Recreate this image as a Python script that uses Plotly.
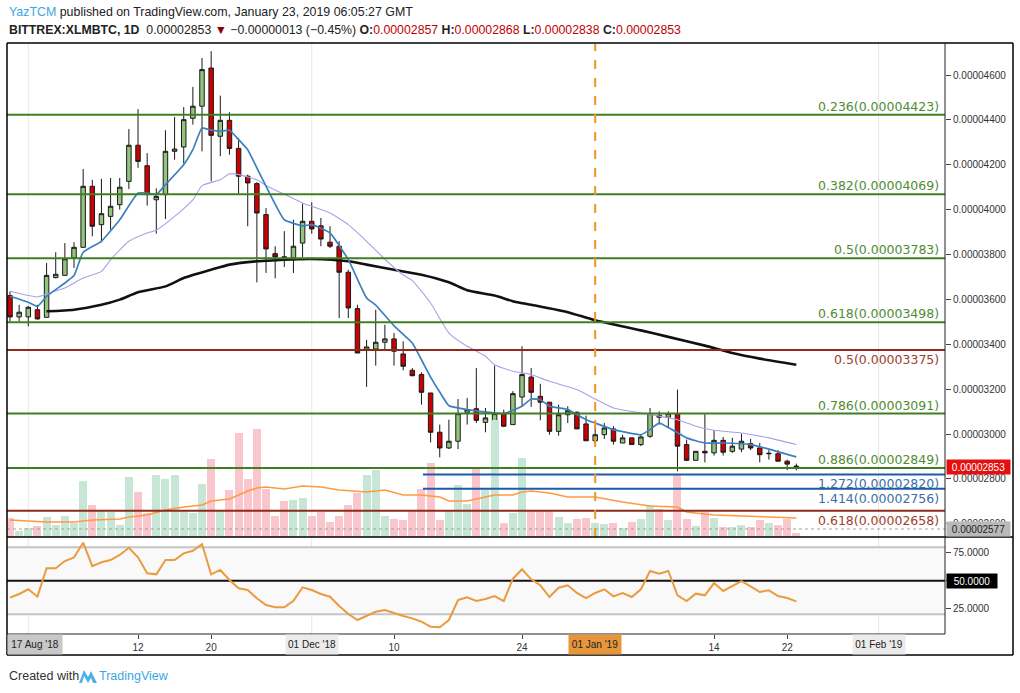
import plotly.graph_objects as go
import pandas as pd

W, H = 1020, 693
def X(px): return px / W
def Y(py): return 1 - py / H

SAT = 1e-8
start_date = "2018-10-29"
n_days = 87
dates = pd.date_range(start_date, periods=n_days, freq="D")

# ---- daily candles (satoshi, 1e-8 BTC) ----
opens = [3617,3522,3522,3554,3520,3697,3707,3785,3832,4104, 3933,3970,4022,4126,4287,4196,4044,4067,4260,4279,
         4407,4461,4631,4327,4398,4273,4149,4116,3978,3804, 3790,3785,3851,3948,3928,3855,3837,3721,3559,3373,
         3379,3409,3424,3357,3284,3265,3183,3008,2938,2968, 3097,3113,3052,3057,3091,3042,3165,3254,3168,3142,
         3012,3086,3097,3045,2970,2997,3023,2960,2983,2953, 2990,3084,3075,3091,2953,2883,2923,2916,2972,2923,
         2933,2957,2938,2912,2912,2879,2857]
highs = [3636,3576,3571,3576,3762,3810,3851,3855,4181,4133, 4137,4141,4141,4359,4448,4252,4095,4354,4413,4457,
         4547,4676,4706,4508,4434,4319,4156,4122,4007,3837, 3904,3955,4027,4033,3963,3926,3859,3732,3576,3420,
         3554,3487,3450,3413,3294,3275,3183,3042,3064,3156, 3161,3294,3116,3305,3109,3191,3391,3294,3224,3143,
         3131,3124,3101,3082,3037,3049,3035,2997,2983,2997, 3116,3101,3101,3198,2975,2923,3091,3017,2987,2983,
         3002,2978,2960,2928,2928,2886,2868]
lows = [3502,3502,3480,3510,3520,3694,3707,3740,3832,3881, 3855,3911,4000,4092,4186,4018,3893,3958,4223,4205,
        4379,4260,4126,4238,4245,4071,3926,3676,3718,3694, 3744,3718,3789,3893,3837,3829,3517,3517,3361,3210,
        3305,3373,3305,3284,3257,3131,2963,2896,2933,2933, 3042,3049,3008,3012,3031,3042,3121,3121,3061,2997,
        2993,3049,3023,2970,2948,2978,2953,2960,2953,2946, 2983,3042,3031,2834,2879,2883,2874,2904,2904,2916,
        2919,2928,2874,2886,2879,2839,2838]
closes = [3522,3543,3565,3513,3707,3712,3781,3832,4104,3926, 3982,4015,4100,4287,4215,4067,4059,4260,4270,4401,
          4461,4624,4331,4398,4273,4149,4119,3985,3825,3789, 3786,3837,3948,3914,3869,3837,3721,3562,3361,3388,
          3409,3424,3369,3302,3260,3186,3008,2938,2968,3091, 3109,3061,3072,3091,3035,3180,3265,3186,3142,3012,
          3086,3104,3023,2970,2997,3027,2968,2983,2953,2987, 3091,3075,3091,2946,2883,2923,2916,2972,2919,2946,
          2968,2938,2908,2914,2879,2866,2853]
# volume (relative units)
volume = [19,6,9,11,20,12,21,14,56,32, 26,25,12,60,45,24,62,58,62,26,
          24,53,78,27,47,104,58,108,48,21, 36,37,39,21,25,15,21,32,44,62,
          67,21,18,17,26,48,74,17,26,52, 33,69,47,117,14,24,79,27,26,27,
          20,14,18,19,14,13,14,9,15,18, 32,28,17,63,18,11,25,19,10,10,
          12,10,17,14,12,18,4]
rsi = [34.9,38.2,42.4,35.8,61.2,61.2,67.7,71.0,84.1,63.2, 66.6,68.6,73.1,79.6,71.0,56.7,55.8,68.6,68.6,74.6,
       76.9,82.9,55.8,59.7,50.7,43.3,41.8,34.3,28.3,26.3, 26.3,32.2,44.2,41.8,38.2,35.8,27.4,20.3,14.9,18.5,
       22.3,23.9,20.9,18.5,16.4,13.4,8.9,8.4,14.9,32.8, 35.2,31.9,33.7,36.4,31.9,51.9,60.3,51.3,46.0,35.5,
       43.8,46.0,39.1,34.6,39.1,42.4,36.1,39.1,35.5,42.4, 58.8,56.4,58.8,37.0,31.9,38.5,37.0,48.0,40.9,45.3,
       49.8,45.1,40.0,41.5,36.4,34.6,31.6]

# ---- moving averages (day index, satoshi) ----
ema_idx = [0,2,3,4,6,7,8,10,12,14,15,16,17,19,20,21,22,23,24,25,26,27,28,30,32,33,35,37,39,40,42,44,45,46,47,48,50,53,54,56,57,58,59,61,63,64,66,69,70,71,74,76,78,81,83,86]
ema_val = [3614,3587,3569,3614,3673,3706,3810,3859,3955,4074,4074,4067,4111,4200,4267,4364,4354,4349,4354,4312,4267,4186,4105,3955,3928,3933,3896,3777,3606,3575,3482,3406,3331,3254,3187,3126,3109,3094,3091,3124,3156,3153,3124,3109,3064,3049,3020,2997,3020,3049,2983,2960,2960,2953,2933,2898]
ma_idx = [0,3,4,6,8,10,11,13,15,16,18,20,21,23,24,25,27,28,32,33,35,37,39,41,43,44,46,48,50,52,53,55,57,59,62,64,66,69,73,75,77,80,83,86]
ma_val = [3636,3611,3625,3651,3695,3725,3777,3859,3896,3908,3970,4044,4107,4133,4160,4156,4133,4108,4030,4015,3985,3933,3859,3779,3709,3684,3584,3450,3391,3347,3309,3280,3265,3235,3198,3156,3116,3094,3064,3035,3017,3005,2983,2953]
long_idx = [4,7,10,12,14,17,19,22,24,27,28,30,33,37,39,42,45,48,50,53,55,57,61,64,69,72,76,79,82,86]
long_val = [3547,3554,3576,3599,3632,3658,3695,3732,3755,3770,3772,3777,3780,3770,3755,3732,3710,3676,3641,3617,3592,3576,3543,3507,3462,3433,3394,3361,3336,3309]
vma_idx = [0,4,7,9,12,13,15,17,19,21,22,24,26,27,28,30,32,34,36,38,39,41,43,45,47,48,50,51,53,55,56,57,59,61,64,67,70,73,74,77,82,86]
vma_val = [17,15,15,17,18,20,22,27,30,32,36,38,46,49,50,48,51,50,47,46,45,47,42,42,40,36,36,38,42,42,45,46,44,40,40,35,31,30,25,22,20,19]

# ---- Fibonacci drawings ----
fib_green_ratio = ["0.236", "0.382", "0.5", "0.618", "0.786", "0.886"]
fib_green_value = [4423, 4069, 3783, 3498, 3091, 2849]
fib_red_ratio = ["0.5", "0.618"]
fib_red_value = [3375, 2658]
fib_blue_ratio = ["1.272", "1.414"]
fib_blue_value = [2820, 2756]
fib_blue_start = "2018-12-13 04:00"
marker_date = "2019-01-01"
level_dotted = 2577
last_price = 2853

price_ticks = [2600, 2800, 3000, 3200, 3400, 3600, 3800, 4000, 4200, 4400, 4600]
rsi_ticks = [25, 50, 75]
date_tick_vals = ["2018-11-12", "2018-11-20", "2018-12-10", "2018-12-24", "2019-01-14", "2019-01-22"]
date_tick_text = ["12", "20", "10", "24", "14", "22"]
month_dates = ["2018-12-01", "2019-01-01", "2019-02-01"]
month_text = ["01 Dec '18", "01 Jan '19", "01 Feb '19"]
grid_dates = ["2018-10-31", "2018-12-01", "2019-02-01"]

GREEN_C = "#93c47d"
RED_C = "#cc0000"
VOL_UP = "#c7e6d5"
VOL_DN = "#f8c6cc"
FIB_GREEN = "#3f7f22"
FIB_GREEN_T = "#4f8c33"
FIB_RED = "#8c2a1c"
FIB_RED_T = "#9c3d2c"
FIB_BLUE = "#1f5aa6"
FIB_BLUE_T = "#3a6ea8"
AXIS_FONT = "Liberation Sans"

t0 = pd.Timestamp(start_date)
x_range = [t0 - pd.Timedelta(hours=7.9), t0 + pd.Timedelta(days=102.26)]

fig = go.Figure()

vol_colors = [VOL_UP if c >= o else VOL_DN for o, c in zip(opens, closes)]
fig.add_trace(go.Bar(x=dates, y=volume, marker=dict(color=vol_colors, line=dict(width=0)),
                     width=0.87 * 86400000, xaxis="x", yaxis="y3", hoverinfo="skip", showlegend=False))
fig.add_trace(go.Scatter(x=dates[vma_idx], y=vma_val, mode="lines",
                         line=dict(color="#ff9a40", width=1.6), xaxis="x", yaxis="y3", showlegend=False))

fig.add_trace(go.Scatter(x=dates[long_idx], y=[v * SAT for v in long_val], mode="lines",
                         line=dict(color="#111111", width=2.6, shape="spline", smoothing=0.6), showlegend=False))
fig.add_trace(go.Scatter(x=dates[ma_idx], y=[v * SAT for v in ma_val], mode="lines",
                         line=dict(color="#a8a2e6", width=1.1, shape="spline", smoothing=0.5), showlegend=False))
fig.add_trace(go.Scatter(x=dates[ema_idx], y=[v * SAT for v in ema_val], mode="lines",
                         line=dict(color="#3a80c0", width=1.7, shape="spline", smoothing=0.4), showlegend=False))

fig.add_trace(go.Candlestick(
    x=dates,
    open=[v * SAT for v in opens], high=[v * SAT for v in highs],
    low=[v * SAT for v in lows], close=[v * SAT for v in closes],
    increasing=dict(fillcolor=GREEN_C, line=dict(color="#1a1a1a", width=1)),
    decreasing=dict(fillcolor=RED_C, line=dict(color="#1a1a1a", width=1)),
    whiskerwidth=0, showlegend=False, xaxis="x", yaxis="y"))

fig.add_trace(go.Scatter(x=dates, y=rsi, mode="lines", line=dict(color="#ec9a3f", width=2),
                         xaxis="x2", yaxis="y2", showlegend=False))

shapes = []
def hline_px(y, x0=7, x1=1013, color="#000", width=1.5):
    shapes.append(dict(type="line", xref="paper", yref="paper", x0=X(x0), x1=X(x1), y0=Y(y), y1=Y(y),
                       line=dict(color=color, width=width), layer="above"))
def vline_px(x, y0, y1, color="#000", width=1.5):
    shapes.append(dict(type="line", xref="paper", yref="paper", x0=X(x), x1=X(x), y0=Y(y0), y1=Y(y1),
                       line=dict(color=color, width=width), layer="above"))

# month grid lines (behind)
for d in grid_dates:
    shapes.append(dict(type="line", xref="x", yref="paper", x0=d, x1=d, y0=Y(634), y1=Y(43),
                       line=dict(color="#e6e6e6", width=1), layer="below"))
# RSI band and levels
shapes.append(dict(type="rect", xref="paper", yref="y2", x0=X(7), x1=X(945), y0=20, y1=80,
                   fillcolor="#f9f9f9", line=dict(width=0), layer="below"))
for lv, col in [(80, "#c4c4c4"), (20, "#c4c4c4"), (50, "#111111")]:
    shapes.append(dict(type="line", xref="paper", yref="y2", x0=X(7), x1=X(945), y0=lv, y1=lv,
                       line=dict(color=col, width=2), layer="below"))

# fib lines
for v in fib_green_value:
    shapes.append(dict(type="line", xref="paper", yref="y", x0=X(7), x1=X(945), y0=v * SAT, y1=v * SAT,
                       line=dict(color=FIB_GREEN, width=2), layer="above"))
for v in fib_red_value:
    shapes.append(dict(type="line", xref="paper", yref="y", x0=X(7), x1=X(945), y0=v * SAT, y1=v * SAT,
                       line=dict(color=FIB_RED, width=2), layer="above"))
for v in fib_blue_value:
    shapes.append(dict(type="line", xref="x", yref="y", x0=fib_blue_start, x1=x_range[1], y0=v * SAT, y1=v * SAT,
                       line=dict(color=FIB_BLUE, width=2), layer="above"))
# dotted level
shapes.append(dict(type="line", xref="paper", yref="y", x0=X(7), x1=X(945), y0=level_dotted * SAT, y1=level_dotted * SAT,
                   line=dict(color="#a0a0a0", width=1, dash="dot"), layer="above"))
# orange dashed vertical line
shapes.append(dict(type="line", xref="x", yref="paper", x0=marker_date, x1=marker_date, y0=Y(537), y1=Y(44),
                   line=dict(color="#f7931e", width=2, dash="dash"), layer="above"))

# frame
hline_px(43)
hline_px(537)
hline_px(655)
hline_px(634, 7, 945, "#222", 1)
vline_px(7, 43, 655)
vline_px(1013, 43, 655)
vline_px(945, 43, 634, "#222", 1)

# TradingView logo (simple)
def ppath(pts):
    return "M " + " L ".join(f"{X(a)},{Y(b)}" for a, b in pts) + " Z"
shapes.append(dict(type="path", xref="paper", yref="paper",
                   path=ppath([(79, 683), (84, 670), (88, 677), (91, 671), (97, 683), (93, 683), (91, 678), (88, 683), (84, 676), (82, 683)]),
                   fillcolor="#4fb0e6", line=dict(width=0)))

annotations = []
for r, v in zip(fib_green_ratio, fib_green_value):
    annotations.append(dict(xref="paper", yref="y", x=X(941), y=v * SAT, xanchor="right", yanchor="bottom",
                            yshift=-1, showarrow=False, text=f"{r}({v * SAT:.8f})",
                            font=dict(family="DejaVu Sans", size=12.5, color=FIB_GREEN_T)))
for r, v in zip(fib_red_ratio, fib_red_value):
    annotations.append(dict(xref="paper", yref="y", x=X(941), y=v * SAT, xanchor="right", yanchor="top",
                            yshift=0, showarrow=False, text=f"{r}({v * SAT:.8f})",
                            font=dict(family="DejaVu Sans", size=12.5, color=FIB_RED_T)))
for r, v in zip(fib_blue_ratio, fib_blue_value):
    annotations.append(dict(xref="paper", yref="y", x=X(941), y=v * SAT, xanchor="right", yanchor="top",
                            yshift=0, showarrow=False, text=f"{r}({v * SAT:.8f})",
                            font=dict(family="DejaVu Sans", size=12.5, color=FIB_BLUE_T)))

# axis value boxes
annotations.append(dict(xref="paper", yref="y", x=X(946), y=last_price * SAT, xanchor="left", yanchor="middle",
                        showarrow=False, text=f"{last_price * SAT:.8f}", bgcolor="#e31010", width=61, height=12,
                        borderpad=1, align="center", font=dict(family=AXIS_FONT, size=10, color="white")))
annotations.append(dict(xref="paper", yref="y", x=X(946), y=level_dotted * SAT, xanchor="left", yanchor="middle",
                        showarrow=False, text=f"{level_dotted * SAT:.8f}", bgcolor="#b9b9b9", width=61, height=12,
                        borderpad=1, align="center", font=dict(family=AXIS_FONT, size=10, color="#222")))
annotations.append(dict(xref="paper", yref="y2", x=X(946), y=50, xanchor="left", yanchor="middle",
                        showarrow=False, text="50.0000", bgcolor="#000000", width=48, height=12,
                        borderpad=1, align="center", font=dict(family=AXIS_FONT, size=10, color="white")))

# date boxes
annotations.append(dict(xref="paper", yref="paper", x=X(35), y=Y(644), xanchor="center", yanchor="middle",
                        showarrow=False, text="17 Aug '18", bgcolor="#c8c8c8", width=52, height=17,
                        font=dict(family=AXIS_FONT, size=10, color="#222")))
for d, t, bg in zip(month_dates, month_text, ["#ebebeb", "#e8963c", "#ebebeb"]):
    annotations.append(dict(xref="x2", yref="paper", x=d, y=Y(644), xanchor="center", yanchor="middle",
                            showarrow=False, text=t, bgcolor=bg, width=50, height=17,
                            font=dict(family=AXIS_FONT, size=10, color="#222")))

# header
annotations.append(dict(xref="paper", yref="paper", x=X(7), y=Y(12), xanchor="left", yanchor="middle", showarrow=False,
                        text="<span style='color:#3ea6e0'>YazTCM</span> published on TradingView.com, January 23, 2019 06:05:27 GMT",
                        font=dict(family="Liberation Sans", size=12.4, color="#222")))
annotations.append(dict(xref="paper", yref="paper", x=X(7), y=Y(30), xanchor="left", yanchor="middle", showarrow=False,
                        text=("<b>BITTREX:XLMBTC, 1D</b>  0.00002853 <span style='color:#8b0000'>▼</span> −0.00000013 (−0.45%) "
                              "<b>O:</b><span style='color:#c00000'>0.00002857</span> <b>H:</b><span style='color:#c00000'>0.00002868</span> "
                              "<b>L:</b><span style='color:#c00000'>0.00002838</span> <b>C:</b><span style='color:#c00000'>0.00002853</span>"),
                        font=dict(family="Liberation Sans", size=12.3, color="#222")))
# footer
annotations.append(dict(xref="paper", yref="paper", x=X(7), y=Y(676), xanchor="left", yanchor="middle", showarrow=False,
                        text="Created with", font=dict(family="Liberation Sans", size=12.5, color="#333")))
annotations.append(dict(xref="paper", yref="paper", x=X(97), y=Y(676), xanchor="left", yanchor="middle", showarrow=False,
                        text="TradingView", font=dict(family="Liberation Sans", size=12.5, color="#3ea6e0")))

fig.update_layout(
    width=W, height=H, margin=dict(l=0, r=0, t=0, b=0),
    paper_bgcolor="white", plot_bgcolor="white", showlegend=False,
    bargap=0,
    xaxis=dict(domain=[X(7), X(945)], range=x_range, type="date", anchor="y", showticklabels=False,
               showgrid=False, zeroline=False, showline=False, ticks="", rangeslider=dict(visible=False)),
    yaxis=dict(domain=[Y(537), Y(43)], range=[25.412 * 1e-6, 47.426 * 1e-6], side="right", anchor="x",
               tickvals=[v * SAT for v in price_ticks], tickformat=".8f", ticks="outside", ticklen=5,
               tickcolor="#444", tickfont=dict(family=AXIS_FONT, size=10, color="#333"),
               showgrid=False, zeroline=False, showline=False),
    yaxis3=dict(overlaying="y", range=[0, 494], visible=False, side="right"),
    xaxis2=dict(domain=[X(7), X(945)], range=x_range, type="date", anchor="y2",
                tickvals=date_tick_vals + month_dates, ticktext=date_tick_text + ["", "", ""],
                ticks="outside", ticklen=4, tickcolor="#444",
                tickfont=dict(family=AXIS_FONT, size=10, color="#333"),
                showgrid=False, zeroline=False, showline=False),
    yaxis2=dict(domain=[Y(634), Y(537)], range=[2.4, 89.2], side="right", anchor="x2",
                tickvals=rsi_ticks, ticktext=[f"{v:.4f}" for v in rsi_ticks], ticks="outside", ticklen=5,
                tickcolor="#444", tickfont=dict(family=AXIS_FONT, size=10, color="#333"),
                showgrid=False, zeroline=False, showline=False),
    shapes=shapes, annotations=annotations,
)

fig.write_html("out.html")
